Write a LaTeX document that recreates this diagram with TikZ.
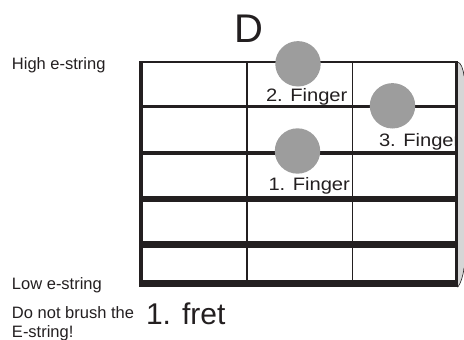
\documentclass[tikz,border=0pt]{standalone}
\usepackage{fontspec}
\setmainfont{Liberation Sans}
\usepackage{graphicx}
\definecolor{ink}{HTML}{231F20}
\definecolor{dot}{HTML}{9D9D9D}
\definecolor{nut}{HTML}{D6D6D6}
\begin{document}
\begin{tikzpicture}[x=1pt,y=-1pt,
  lbl/.style={anchor=base west,inner sep=0pt,outer sep=0pt,text=ink},
  strg/.style={draw=ink,line width=#1},
  fing/.style={circle,fill=dot,inner sep=0pt,minimum size=45.4pt}]
\useasboundingbox (0,0) rectangle (464,340);
% strings
\coordinate (sL1) at (141,62);    \coordinate (sR1) at (456.5,62);
\coordinate (sL2) at (141,106.7); \coordinate (sR2) at (456.5,106.7);
\coordinate (sL3) at (141,152.8); \coordinate (sR3) at (456.5,152.8);
\coordinate (sL4) at (141,199);   \coordinate (sR4) at (456.5,199);
\coordinate (sL5) at (141,244.3); \coordinate (sR5) at (456.5,244.3);
\coordinate (sL6) at (141,283.7); \coordinate (sR6) at (456.5,283.7);
\draw[strg=2pt] (sL1) -- (sR1);
\draw[strg=3.3pt] (sL2) -- (sR2);
\draw[strg=4.3pt] (sL3) -- (sR3);
\draw[strg=5.5pt] (sL4) -- (sR4);
\draw[strg=6.5pt] (sL5) -- (sR5);
\draw[strg=7.3pt] (sL6) -- (sR6);
% frets
\coordinate (f1t) at (247,62);   \coordinate (f1b) at (247,283.7);
\coordinate (f2t) at (352.7,62); \coordinate (f2b) at (352.7,283.7);
\draw[strg=1.5pt] (f1t) -- (f1b);
\draw[strg=1.5pt] (f2t) -- (f2b);
\coordinate (eLt) at (141,61); \coordinate (eLb) at (141,287.3);
\draw[strg=3.3pt] (eLt) -- (eLb);
% finger dots
\node[fing] (d2) at (298,63.8) {};
\node[fing] (d3) at (392.5,105.8) {};
\node[fing] (d1) at (297.5,151) {};
% labels
\node[lbl] (t2) at (266,101.5) {\fontsize{18}{18}\selectfont\scalebox{1.12}[1]{2. Finger}};
\node[lbl] (t3) at (379,146) {\fontsize{18}{18}\selectfont\scalebox{1.12}[1]{3. Finger}};
\node[lbl] (t1) at (268.5,190.5) {\fontsize{18}{18}\selectfont\scalebox{1.12}[1]{1. Finger}};
\node[lbl] (chord) at (234,42) {\fontsize{40}{40}\selectfont D};
\node[lbl] (fret) at (146,324) {\fontsize{30}{30}\selectfont 1. fret};
\node[lbl] (hi) at (12,69) {\fontsize{16.5}{16.5}\selectfont High e-string};
\node[lbl] (lo) at (12,289) {\fontsize{16.5}{16.5}\selectfont Low e-string};
\node[lbl] (nb1) at (12,318.5) {\fontsize{16.5}{16.5}\selectfont Do not brush the};
\node[lbl] (nb2) at (12,337.5) {\fontsize{16.5}{16.5}\selectfont E-string!};
% nut
\fill[nut] (457.7,62) .. controls (461,63) and (463,68) .. (464,76) -- (464,268)
  .. controls (463,276) and (461,283) .. (457.7,287.3) -- cycle;
\draw[ink,line width=0.6pt] (457.7,62) .. controls (461,63) and (463,68) .. (464,76);
\draw[ink,line width=0.6pt] (464,268) .. controls (463,276) and (461,283) .. (457.7,287.3);
\coordinate (eRt) at (456.5,61); \coordinate (eRb) at (456.5,287.3);
\draw[strg=2.6pt] (eRt) -- (eRb);
\end{tikzpicture}
\end{document}
